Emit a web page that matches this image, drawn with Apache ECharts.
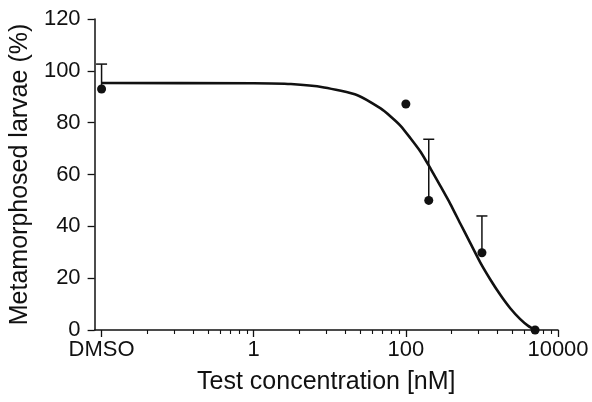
<!DOCTYPE html>
<html>
<head>
<meta charset="utf-8">
<script src="https://cdn.jsdelivr.net/npm/echarts@6/dist/echarts.min.js"></script>
<style>
  html, body { margin: 0; padding: 0; background: #fff; }
  #main { width: 592px; height: 402px; }
</style>
</head>
<body>
<div id="main"></div>
<script>
// measured points (concentration in nM, DMSO placed at 0.01)
var doseNM = [0.01, 100, 200, 1000, 5000];
var meanPct = [93, 87.2, 50, 29.8, 0];
var upperPct = [102.6, null, 73.6, 44, null];

// fitted curve
var curveNM = [0.01, 1, 3.08, 8.42, 23.1, 46.6, 63, 85.2, 115, 156, 211, 285, 385, 521, 704, 953, 1288, 1742, 2355, 3186, 4055, 5000];
var curvePct = [95.3, 95.2, 94.9, 93.6, 90.6, 85.5, 82.4, 78.8, 74.0, 68.8, 62.3, 55.5, 48.6, 41, 33.5, 26, 19.5, 13.6, 8.4, 4.2, 1.6, 0];

var majorTicks = [0.01, 1, 100, 10000];
var majorLabels = ['DMSO', '1', '100', '10000'];

// x axis is drawn in log10 units
var lg = function (v) { return Math.log10(v); };
var majorLog = majorTicks.map(lg);
var minorLog = [];
majorLog.slice(0, 3).forEach(function (m) {
  for (var k = 2; k <= 9; k++) {
    minorLog.push(m + 2 * Math.log10(k));
  }
});

var points = doseNM.map(function (d, i) { return [lg(d), meanPct[i]]; });
var bars = [];
doseNM.forEach(function (d, i) {
  if (upperPct[i] != null) bars.push([lg(d), meanPct[i], upperPct[i]]);
});
var curve = curveNM.map(function (d, i) { return [lg(d), curvePct[i]]; });

var font = 'Liberation Sans, Arial, sans-serif';
var ink = '#111';

var chart = echarts.init(document.getElementById('main'));
chart.setOption({
  backgroundColor: '#fff',
  animation: false,
  grid: { left: 93, right: 34, top: 19, bottom: 72 },
  xAxis: [
    {
      type: 'value',
      position: 'bottom',
      min: lg(0.0081),
      max: 4,
      name: 'Test concentration [nM]',
      nameLocation: 'middle',
      nameGap: 40,
      nameTextStyle: { fontFamily: font, fontSize: 25, color: ink },
      splitLine: { show: false },
      axisLine: { onZero: false, lineStyle: { color: ink, width: 1.5 } },
      axisTick: { customValues: majorLog, length: 7, lineStyle: { color: ink, width: 1.3 } },
      axisLabel: {
        customValues: majorLog,
        margin: 9,
        fontFamily: font,
        fontSize: 22,
        color: ink,
        formatter: function (v) {
          var i = majorLog.findIndex(function (m) { return Math.abs(m - v) < 1e-6; });
          return i >= 0 ? majorLabels[i] : '';
        }
      }
    },
    {
      type: 'value',
      position: 'bottom',
      min: lg(0.0081),
      max: 4,
      splitLine: { show: false },
      axisLine: { show: false, onZero: false },
      axisTick: { customValues: minorLog, length: 4, lineStyle: { color: ink, width: 1.1 } },
      axisLabel: { show: false }
    }
  ],
  yAxis: {
    type: 'value',
    min: 0,
    max: 120,
    interval: 20,
    name: 'Metamorphosed larvae (%)',
    nameLocation: 'middle',
    nameGap: 57,
    nameTextStyle: { fontFamily: font, fontSize: 25, color: ink },
    splitLine: { show: false },
    axisLine: { show: true, onZero: false, lineStyle: { color: ink, width: 1.5 } },
    axisTick: { show: true, length: 7, lineStyle: { color: ink, width: 1.3 } },
    axisLabel: { margin: 14, fontFamily: font, fontSize: 22, color: ink }
  },
  series: [
    {
      type: 'line',
      data: curve,
      smooth: 0.2,
      showSymbol: false,
      lineStyle: { color: ink, width: 2.6 },
      z: 2
    },
    {
      type: 'custom',
      data: bars,
      renderItem: function (params, api) {
        var base = api.coord([api.value(0), api.value(1)]);
        var top = api.coord([api.value(0), api.value(2)]);
        var half = 5.5;
        var style = { stroke: ink, lineWidth: 1.5 };
        return {
          type: 'group',
          children: [
            { type: 'line', shape: { x1: base[0], y1: base[1], x2: top[0], y2: top[1] }, style: style },
            { type: 'line', shape: { x1: top[0] - half, y1: top[1], x2: top[0] + half, y2: top[1] }, style: style }
          ]
        };
      },
      z: 3
    },
    {
      type: 'scatter',
      data: points,
      symbol: 'circle',
      symbolSize: 9,
      itemStyle: { color: ink, opacity: 1 },
      z: 4
    }
  ]
});
</script>
</body>
</html>
